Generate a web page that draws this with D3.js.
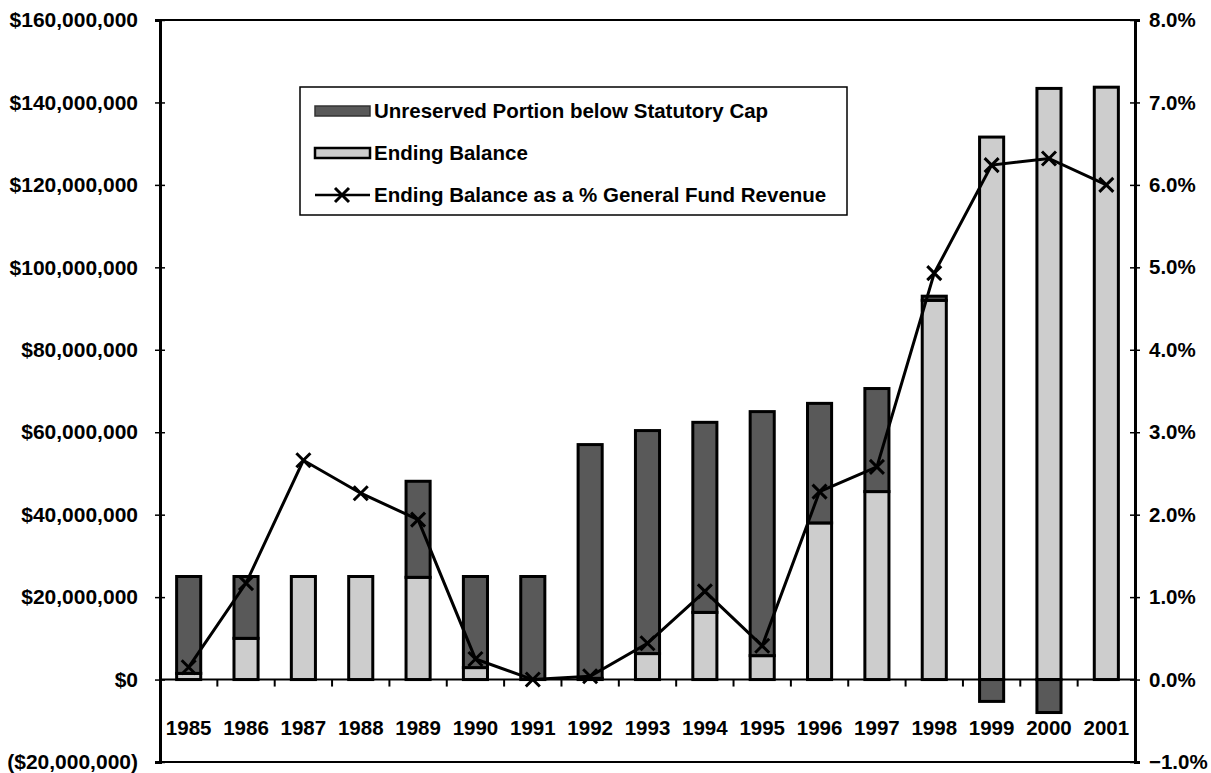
<!DOCTYPE html>
<html><head><meta charset="utf-8">
<script src="https://cdn.jsdelivr.net/npm/d3@7"></script>
<style>
body{margin:0;background:#fff;}
text{font-family:"Liberation Sans",Arial,sans-serif;font-weight:bold;fill:#000;}
</style></head>
<body><svg id="c" width="1211" height="773"></svg>
<script>
const years = ["1985","1986","1987","1988","1989","1990","1991","1992","1993","1994","1995","1996","1997","1998","1999","2000","2001"];
const endingBalance = [1.5e6,10e6,25e6,25e6,24.8e6,2.9e6,0,0.3e6,6.3e6,16.3e6,5.8e6,38e6,45.6e6,92e6,131.6e6,143.4e6,143.7e6];
const unreserved = [23.5e6,15e6,0,0,23.3e6,22.1e6,25e6,56.7e6,54.1e6,46.1e6,59.2e6,29e6,25e6,1e6,-5.3e6,-8e6,0];
const pctRevenue = [0.15,1.17,2.66,2.26,1.94,0.25,0.0,0.04,0.44,1.07,0.41,2.28,2.58,4.93,6.24,6.32,6.0];
const leftTicks = [-20e6,0,20e6,40e6,60e6,80e6,100e6,120e6,140e6,160e6];
const rightTicks = [-1,0,1,2,3,4,5,6,7,8];
const seriesNames = ["Unreserved Portion below Statutory Cap","Ending Balance","Ending Balance as a % General Fund Revenue"];

const svg = d3.select("#c");
const L=160,R=1135,T=20,B=762;
const FS=20.5;
const x = d3.scaleBand().domain(years).range([L,R]).paddingInner(0.58).paddingOuter(0.29);
const xb = d3.scaleBand().domain(years).range([L,R]);
const y = d3.scaleLinear().domain([-20e6,160e6]).range([B,T]);
const y2 = d3.scaleLinear().domain([-1,8]).range([B,T]);
const colDark="#595959", colLight="#cdcdcd";

const rows = years.map((yr,i)=>({year:yr,eb:endingBalance[i],un:unreserved[i]}));
const stack = d3.stack().keys(["eb","un"]).offset(d3.stackOffsetDiverging)(rows);
const fills = {eb:colLight, un:colDark};

svg.append("g").selectAll("g").data(stack).join("g")
  .attr("fill",d=>fills[d.key])
  .selectAll("rect").data(d=>d.filter(p=>p[1]!==p[0])).join("rect")
  .attr("x",d=>x(d.data.year)).attr("width",x.bandwidth())
  .attr("y",d=>y(Math.max(d[0],d[1]))).attr("height",d=>Math.abs(y(d[0])-y(d[1])))
  .attr("stroke","#000").attr("stroke-width",3);

// plot frame
svg.append("rect").attr("x",L).attr("y",T).attr("width",R-L).attr("height",B-T)
  .attr("fill","none").attr("stroke","#000").attr("stroke-width",2);

// left axis
const la = svg.append("g").attr("transform",`translate(${L},0)`)
  .call(d3.axisLeft(y).tickValues(leftTicks).tickSize(5)
    .tickFormat(v=> v<0 ? "($"+d3.format(",")(-v)+")" : "$"+d3.format(",")(v)));
la.select(".domain").attr("stroke-width",3);
la.selectAll(".tick line").attr("x2",5).attr("x1",-5).attr("stroke-width",1.5);
la.selectAll(".tick text").attr("x",-22).attr("font-size",21).attr("font-family","Liberation Sans, Arial").attr("font-weight","bold");

// right axis
const ra = svg.append("g").attr("transform",`translate(${R},0)`)
  .call(d3.axisRight(y2).tickValues(rightTicks).tickSize(5).tickFormat(v=>d3.format(".1f")(v)+"%"));
ra.select(".domain").attr("stroke-width",3);
ra.selectAll(".tick line").attr("x1",-5).attr("x2",5).attr("stroke-width",1.5);
ra.selectAll(".tick text").attr("x",14).attr("font-size",FS).attr("font-family","Liberation Sans, Arial").attr("font-weight","bold");

// zero line with category ticks
svg.append("line").attr("x1",L).attr("x2",R).attr("y1",y(0)).attr("y2",y(0)).attr("stroke","#000").attr("stroke-width",2);
svg.append("g").selectAll("line").data(years.slice(1)).join("line")
  .attr("x1",d=>xb(d)).attr("x2",d=>xb(d)).attr("y1",y(0)).attr("y2",y(0)+7)
  .attr("stroke","#000").attr("stroke-width",2);
svg.append("g").selectAll("text").data(years).join("text")
  .attr("x",d=>xb(d)+xb.bandwidth()/2).attr("y",y(0)+55).attr("text-anchor","middle")
  .attr("font-size",FS).text(d=>d);

// line
const pts = years.map((yr,i)=>[xb(yr)+xb.bandwidth()/2, y2(pctRevenue[i])]);
svg.append("path").attr("d",d3.line()(pts)).attr("fill","none").attr("stroke","#000").attr("stroke-width",3);
const m=7;
svg.append("g").selectAll("path").data(pts).join("path")
  .attr("d",p=>`M${p[0]-m},${p[1]-m}L${p[0]+m},${p[1]+m}M${p[0]-m},${p[1]+m}L${p[0]+m},${p[1]-m}`)
  .attr("stroke","#000").attr("stroke-width",3);

// legend
const lg = svg.append("g");
lg.append("rect").attr("x",300).attr("y",87).attr("width",547).attr("height",128)
  .attr("fill","#fff").attr("stroke","#000").attr("stroke-width",1.5);
const ly=[111,153,195];
lg.append("rect").attr("x",315).attr("y",ly[0]-5).attr("width",55).attr("height",10).attr("fill",colDark).attr("stroke","#333").attr("stroke-width",1.5);
lg.append("rect").attr("x",315).attr("y",ly[1]-5).attr("width",55).attr("height",10).attr("fill",colLight).attr("stroke","#000").attr("stroke-width",2.5);
lg.append("line").attr("x1",315).attr("x2",370).attr("y1",ly[2]).attr("y2",ly[2]).attr("stroke","#000").attr("stroke-width",2.5);
lg.append("path").attr("d",`M${342-m},${ly[2]-m}L${342+m},${ly[2]+m}M${342-m},${ly[2]+m}L${342+m},${ly[2]-m}`).attr("stroke","#000").attr("stroke-width",3);
lg.selectAll("text").data(seriesNames).join("text")
  .attr("x",374).attr("y",(d,i)=>ly[i]+7).attr("font-size",FS).text(d=>d);
</script></body></html>
